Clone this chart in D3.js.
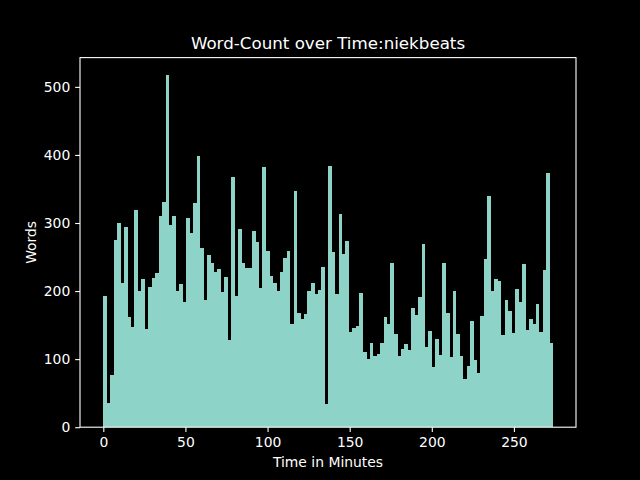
<!DOCTYPE html>
<html>
<head>
<meta charset="utf-8">
<script src="https://cdn.jsdelivr.net/npm/d3@7"></script>
<style>
  html, body { margin: 0; padding: 0; background: #000; }
  svg { display: block; }
  text { font-family: "DejaVu Sans", sans-serif; fill: #fff; }
</style>
</head>
<body>
<svg id="chart" width="640" height="480"></svg>
<script>
// ---- data ----
const title = "Word-Count over Time:niekbeats";
const xLabel = "Time in Minutes";
const yLabel = "Words";
const totalMinutes = 273.8;           // span covered by the bins
const wordCounts = [
  193, 36, 77, 275, 300, 212, 294, 162, 147, 319,
  200, 218, 144, 206, 219, 226, 310, 331, 517, 297,
  310, 200, 210, 184, 307, 285, 329, 398, 263, 187,
  253, 241, 228, 232, 199, 221, 128, 367, 193, 291,
  241, 234, 234, 288, 272, 204, 382, 259, 222, 212,
  200, 228, 248, 259, 152, 347, 168, 159, 166, 200,
  212, 196, 201, 235, 34, 384, 257, 196, 313, 254,
  273, 140, 146, 149, 197, 110, 100, 124, 105, 107,
  124, 162, 152, 241, 137, 105, 115, 122, 113, 175,
  165, 191, 269, 118, 141, 88, 130, 106, 241, 168,
  103, 200, 137, 105, 71, 90, 156, 99, 80, 163,
  247, 340, 200, 218, 215, 135, 187, 171, 138, 203,
  184, 240, 143, 159, 152, 181, 140, 231, 373, 124
];
const xTicks = [0, 50, 100, 150, 200, 250];
const yTicks = [0, 100, 200, 300, 400, 500];

// ---- layout ----
const W = 640, H = 480;
const mLeft = 80, mRight = 576, mTop = 57.6, mBottom = 427.2;
const barColor = "#8dd3c7";

const binWidth = totalMinutes / wordCounts.length;
const bins = wordCounts.map((v, i) => ({ start: i * binWidth, end: (i + 1) * binWidth, value: v }));

const x = d3.scaleLinear().domain([-14.19, 287.8]).range([mLeft, mRight]);
const y = d3.scaleLinear().domain([0, 543]).range([mBottom, mTop]);

const svg = d3.select("#chart");
svg.append("rect").attr("width", W).attr("height", H).attr("fill", "#000");

// bars
svg.append("g")
  .attr("shape-rendering", "crispEdges")
  .selectAll("rect")
  .data(bins)
  .join("rect")
  .attr("x", d => x(d.start))
  .attr("width", d => x(d.end) - x(d.start) + 0.3)
  .attr("y", d => y(d.value))
  .attr("height", d => y(0) - y(d.value))
  .attr("fill", barColor);

// axes
const tickLen = 4.86, tickPad = 4.86;
const xAxis = d3.axisBottom(x).tickValues(xTicks).tickFormat(d3.format("d"))
  .tickSizeInner(tickLen).tickSizeOuter(0).tickPadding(tickPad);
const yAxis = d3.axisLeft(y).tickValues(yTicks).tickFormat(d3.format("d"))
  .tickSizeInner(tickLen).tickSizeOuter(0).tickPadding(tickPad);

const gx = svg.append("g").attr("transform", `translate(0,${mBottom})`).call(xAxis);
const gy = svg.append("g").attr("transform", `translate(${mLeft},0)`).call(yAxis);
[gx, gy].forEach(g => {
  g.select(".domain").remove();
  g.selectAll(".tick line").attr("stroke", "#fff").attr("stroke-width", 1.1);
  g.selectAll(".tick text").attr("fill", "#fff").style("font-size", "13.9px")
    .style("font-family", "'DejaVu Sans', sans-serif");
});

// frame
svg.append("rect")
  .attr("x", mLeft).attr("y", mTop)
  .attr("width", mRight - mLeft).attr("height", mBottom - mTop)
  .attr("fill", "none").attr("stroke", "#fff").attr("stroke-width", 1.1);

// title and labels
svg.append("text")
  .attr("x", (mLeft + mRight) / 2).attr("y", 49)
  .attr("text-anchor", "middle")
  .style("font-size", "16.7px")
  .text(title);

svg.append("text")
  .attr("x", (mLeft + mRight) / 2).attr("y", 467)
  .attr("text-anchor", "middle")
  .style("font-size", "13.9px")
  .text(xLabel);

svg.append("text")
  .attr("transform", `translate(36,${(mTop + mBottom) / 2}) rotate(-90)`)
  .attr("text-anchor", "middle")
  .style("font-size", "13.9px")
  .text(yLabel);
</script>
</body>
</html>
